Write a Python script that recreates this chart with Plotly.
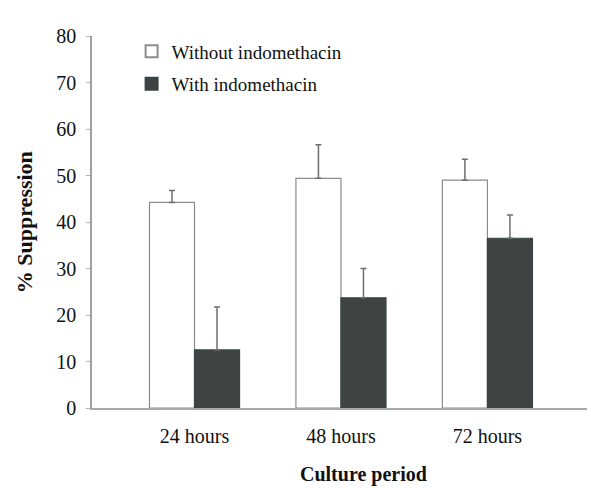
import plotly.graph_objects as go

categories = ["24 hours", "48 hours", "72 hours"]
without_vals = [44.2, 49.4, 49.0]
without_err = [2.6, 7.2, 4.5]
with_vals = [12.5, 23.7, 36.5]
with_err = [9.2, 6.3, 5.0]
y_ticks = [0, 10, 20, 30, 40, 50, 60, 70, 80]

FONT = "Liberation Serif, Times New Roman, serif"

fig = go.Figure()
fig.add_trace(go.Bar(
    x=categories, y=without_vals, name="Without indomethacin",
    marker=dict(color="#ffffff", line=dict(color="#8c8c8c", width=1.2)),
    error_y=dict(type="data", array=without_err, arrayminus=[0, 0, 0], symmetric=False,
                 color="#6e6e6e", thickness=1.5, width=3),
    legendgroup="a",
))
fig.add_trace(go.Bar(
    x=categories, y=with_vals, name="With indomethacin",
    marker=dict(color="#3f4342", line=dict(color="#3a4548", width=1.2)),
    error_y=dict(type="data", array=with_err, arrayminus=[0, 0, 0], symmetric=False,
                 color="#6e6e6e", thickness=1.5, width=3),
    legendgroup="b",
))

fig.update_layout(
    width=591, height=488,
    margin=dict(l=92, r=4, t=36, b=80),
    paper_bgcolor="white", plot_bgcolor="white",
    barmode="group", bargap=0.385, bargroupgap=0,
    font=dict(family=FONT, color="#111111", size=20),
    showlegend=True,
    legend=dict(x=0.08, y=1.01, xanchor="left", yanchor="top",
                font=dict(size=19, family=FONT), bgcolor="rgba(0,0,0,0)",
                tracegroupgap=5, itemsizing="constant"),
    xaxis=dict(range=[-0.70, 2.68], showline=True, linecolor="#a8a8a8", linewidth=1.5,
               ticks="", showgrid=False, zeroline=False,
               tickfont=dict(size=20, family=FONT), ticklabelstandoff=9),
    yaxis=dict(range=[0, 80], tickvals=y_ticks, showline=True, linecolor="#a0a0a0",
               linewidth=1.5, ticks="outside", ticklen=4, tickcolor="#b0b0b0",
               showgrid=False, zeroline=False, ticklabelstandoff=6,
               tickfont=dict(size=20, family=FONT)),
    annotations=[
        dict(text="<b>% Suppression</b>", xref="paper", yref="paper",
             x=-0.137, y=0.5, xanchor="center", yanchor="middle", textangle=-90,
             showarrow=False, font=dict(size=22, family=FONT)),
        dict(text="<b>Culture period</b>", xref="paper", yref="paper",
             x=(363 - 92) / 495, y=-(474 - 408) / 372, xanchor="center", yanchor="middle",
             showarrow=False, font=dict(size=20, family=FONT)),
    ],
)

fig.write_html("out.html", config={"displayModeBar": False},
               post_script="document.body.style.margin='0px';")
